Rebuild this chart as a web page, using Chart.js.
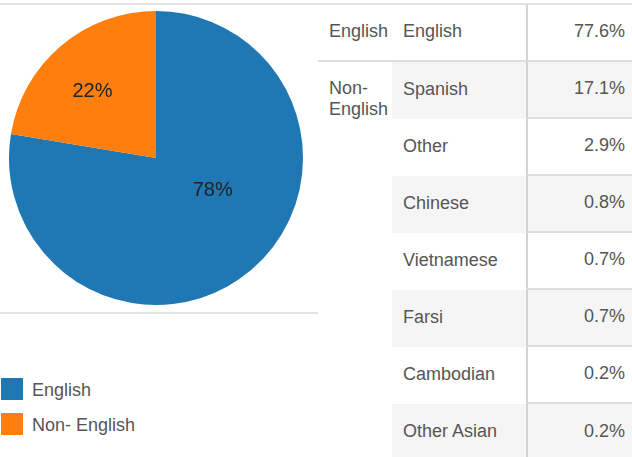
<!DOCTYPE html>
<html>
<head>
<meta charset="utf-8">
<script src="https://cdn.jsdelivr.net/npm/chart.js@4"></script>
<style>
    body { margin: 0; width: 632px; height: 457px; overflow: hidden; background: #fff;
           font-family: "Liberation Sans", Arial, sans-serif; color: #555; position: relative; }
    #topline { position: absolute; left: 0; top: 3px; width: 632px; height: 2px; background: #e2e2e2; }
    #left { position: absolute; left: 0; top: 5px; width: 318px; }
    #pie-wrap { width: 312px; height: 306px; }
    #botline { position: absolute; left: 0; top: 312px; width: 318px; height: 2px; background: #e2e2e2; }
    #legend { position: absolute; left: 1px; top: 378px; }
    .leg-item { height: 35px; display: flex; align-items: flex-start; font-size: 18px; }
    .leg-box { width: 22px; height: 22px; margin-right: 9px; }
    .leg-item span { line-height: 24px; }
    table { position: absolute; left: 318px; top: 5px; width: 314px; table-layout: fixed;
            border-collapse: separate; border-spacing: 0; font-size: 18px; }
    tr { height: 57px; }
    td { padding: 0 0 3px 11px; vertical-align: middle; white-space: nowrap; line-height: 21px; }
    td.grp { vertical-align: top; padding-top: 16px; white-space: normal; }
    td.val { text-align: right; padding-right: 7px; border-left: 2px solid #d2d2d2; border-bottom: 2px solid #dedede; }
    tr.first td { border-bottom: 2px solid #dedede; }
    tr.last td.val { border-bottom: none; }
    tr.shade td.lang, tr.shade td.val { background: #f5f5f5; }
</style>
</head>
<body>
<div id="topline"></div>
<div id="left">
    <div id="pie-wrap"><canvas id="pie"></canvas></div>
</div>
<div id="botline"></div>
<div id="legend"></div>
<table id="tbl"></table>
<script>
// pie data
const pieLabels = ['English', 'Non- English'];
const pieValues = [77.6, 22.4];
const pieColors = ['#1f77b4', '#ff7f0e'];

// table data
const groups = ['English', 'Non- English', 'Non- English', 'Non- English', 'Non- English', 'Non- English', 'Non- English', 'Non- English'];
const languages = ['English', 'Spanish', 'Other', 'Chinese', 'Vietnamese', 'Farsi', 'Cambodian', 'Other Asian'];
const shares = ['77.6%', '17.1%', '2.9%', '0.8%', '0.7%', '0.7%', '0.2%', '0.2%'];

// where the label sits inside each slice (fraction of radius, angle shift in degrees)
const labelRadius = [0.44, 0.63];
const labelShift = [-21, -3];

const sliceLabels = {
    id: 'sliceLabels',
    afterDatasetsDraw(chart) {
        const ctx = chart.ctx;
        const total = pieValues.reduce((a, b) => a + b, 0);
        ctx.save();
        ctx.font = '20px "Liberation Sans", Arial, sans-serif';
        ctx.fillStyle = '#222';
        ctx.textAlign = 'center';
        ctx.textBaseline = 'middle';
        chart.getDatasetMeta(0).data.forEach((arc, i) => {
            const p = arc.getProps(['x', 'y', 'startAngle', 'endAngle', 'outerRadius'], true);
            const mid = (p.startAngle + p.endAngle) / 2 + labelShift[i] * Math.PI / 180;
            const r = p.outerRadius * labelRadius[i];
            const txt = Math.round(pieValues[i] / total * 100) + '%';
            ctx.fillText(txt, p.x + Math.cos(mid) * r, p.y + Math.sin(mid) * r + 1);
        });
        ctx.restore();
    }
};

new Chart(document.getElementById('pie'), {
    type: 'pie',
    data: {
        labels: pieLabels,
        datasets: [{
            data: pieValues,
            backgroundColor: pieColors,
            borderWidth: 0
        }]
    },
    options: {
        animation: false,
        responsive: true,
        maintainAspectRatio: false,
        layout: { padding: 6 },
        plugins: {
            legend: { display: false },
            tooltip: { enabled: false }
        }
    },
    plugins: [sliceLabels]
});

// legend
const legend = document.getElementById('legend');
pieLabels.forEach((lab, i) => {
    const item = document.createElement('div');
    item.className = 'leg-item';
    item.innerHTML = '<div class="leg-box" style="background:' + pieColors[i] + '"></div><span>' + lab + '</span>';
    legend.appendChild(item);
});

// table
const tbl = document.getElementById('tbl');
tbl.innerHTML = '<colgroup><col style="width:74px"><col style="width:134px"><col style="width:106px"></colgroup>';
languages.forEach((lang, i) => {
    const tr = document.createElement('tr');
    if (i === 0) tr.className = 'first';
    else if (i % 2 === 1) tr.className = 'shade';
    if (i === languages.length - 1) tr.className += ' last';
    let html = '';
    if (i === 0 || groups[i] !== groups[i - 1]) {
        let span = 1;
        while (i + span < groups.length && groups[i + span] === groups[i]) span++;
        html += '<td class="grp" rowspan="' + span + '"' + (span === 1 ? ' style="padding-top:0;vertical-align:middle"' : '') + '>' + groups[i] + '</td>';
    }
    html += '<td class="lang">' + lang + '</td><td class="val">' + shares[i] + '</td>';
    tr.innerHTML = html;
    tbl.appendChild(tr);
});
</script>
</body>
</html>
